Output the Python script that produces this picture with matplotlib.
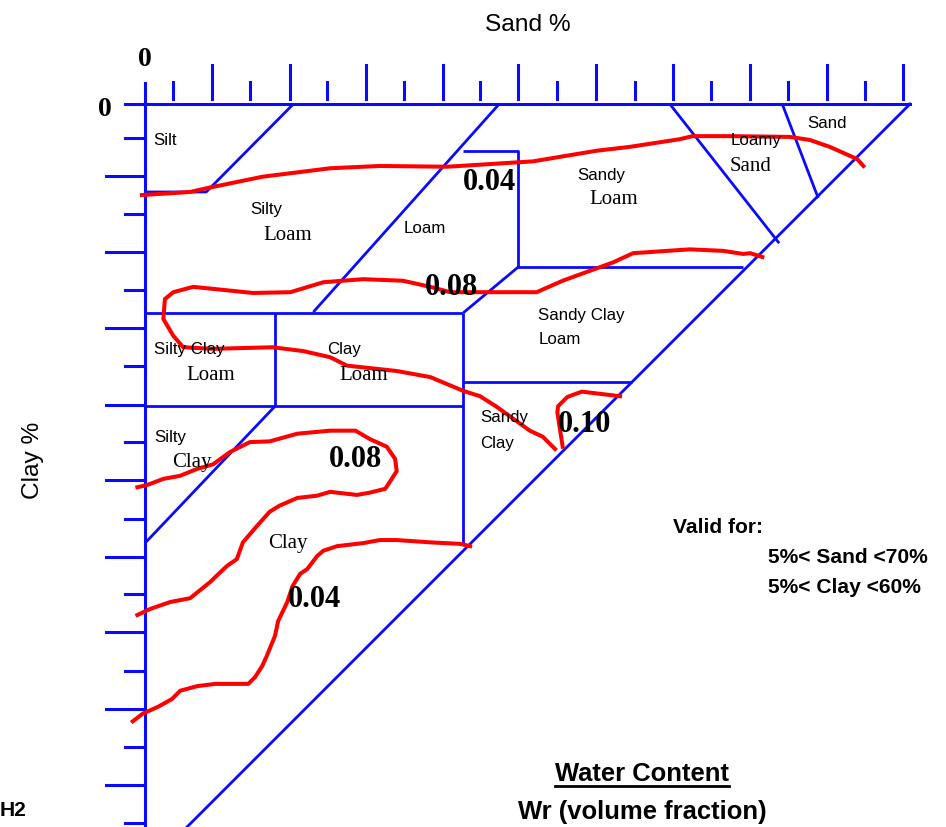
import matplotlib
matplotlib.use("Agg")
import matplotlib.pyplot as plt
from matplotlib import font_manager
from matplotlib.lines import Line2D


# pixels per percent in the reference drawing (same on both axes)
PX = 7.65
W, H = 946, 828
X0, Y0 = 145, 105   # where sand = 0 and clay = 0 sit in the picture

BLUE = "#0a0aff"
RED = "#ff0000"

# tick marks along the top (sand %) and the left side (clay %)
sand_minor = [3.7, 13.7, 23.8, 33.8, 43.8, 53.9, 64.0, 74.0, 84.0, 94.1]
sand_major = [8.8, 18.9, 28.9, 38.9, 48.8, 59.0, 69.0, 79.1, 89.1, 99.1]
clay_minor = [4.4, 14.4, 24.3, 34.3, 44.2, 54.2, 64.1, 74.1, 84.0, 94.0]
clay_major = [9.4, 19.4, 29.3, 39.3, 49.2, 59.2, 69.0, 79.1, 89.0]

# texture class boundaries: (sand %, clay %)
boundaries = [
    [(19.4, 0), (8.0, 11.5), (0, 11.5)],
    [(46.3, 0), (22.0, 27.2)],
    [(41.6, 6.1), (48.8, 6.1), (48.8, 21.3), (78.2, 21.3)],
    [(48.8, 21.3), (41.6, 27.3)],
    [(0, 27.3), (41.6, 27.3)],
    [(41.6, 27.3), (41.6, 57.5)],
    [(17.0, 27.3), (17.0, 39.5)],
    [(0, 39.5), (41.6, 39.5)],
    [(41.6, 36.3), (63.7, 36.3)],
    [(17.0, 39.5), (0, 57.4)],
    [(68.6, 0), (82.9, 18.2)],
    [(83.3, 0), (88.0, 12.3)],
]

# water content isolines (sand %, clay %)
iso_004_top = [(-0.4, 11.9), (5.9, 11.5), (8.1, 11.0), (15.4, 9.5), (24.2, 8.4),
               (30.7, 8.1), (39.5, 8.2), (50.7, 7.5), (59.1, 6.1), (63.4, 5.6),
               (69.9, 4.6), (71.6, 4.2), (76.5, 4.2), (84.3, 4.3), (86.9, 4.7),
               (89.5, 5.6), (93.1, 7.2), (93.9, 8.1)]
iso_008_top = [(80.7, 20.0), (79.1, 19.5), (78.2, 19.6), (75.6, 19.2), (71.2, 19.0),
               (63.8, 19.5), (61.2, 20.7), (54.6, 23.1), (51.2, 24.6), (39.9, 24.6),
               (37.3, 23.9), (33.7, 23.1), (28.5, 22.9), (23.3, 23.3), (19.0, 24.6),
               (14.1, 24.7), (6.3, 23.9), (3.7, 24.6), (2.6, 25.5), (2.4, 28.1),
               (3.7, 30.3), (5.0, 31.8), (8.9, 32.0), (16.7, 31.8), (20.7, 32.3),
               (24.2, 33.1), (26.4, 34.2), (32.9, 34.9), (37.3, 35.7), (41.6, 37.5),
               (43.8, 38.2), (46.0, 39.6), (50.3, 42.7), (52.0, 43.5), (53.6, 45.1)]
iso_010 = [(54.6, 44.8), (53.9, 40.3), (54.0, 39.5), (55.2, 38.3), (57.1, 37.6),
           (62.1, 38.2)]
iso_008_low = [(-1.0, 50.1), (0.3, 49.8), (2.4, 49.0), (4.6, 48.6), (6.8, 47.7),
               (8.9, 47.1), (11.1, 45.5), (13.7, 44.2), (16.3, 44.1), (19.9, 43.1),
               (24.2, 42.7), (27.5, 42.7), (29.4, 43.8), (31.6, 44.8), (32.7, 46.4),
               (32.9, 48.0), (32.0, 49.4), (31.4, 50.3), (29.4, 50.8), (27.7, 51.1),
               (24.2, 50.7), (22.5, 51.2), (19.9, 51.5), (17.6, 52.5), (16.3, 53.3),
               (14.6, 55.2), (12.8, 57.3), (12.0, 59.5), (10.7, 60.4), (8.5, 62.5),
               (5.9, 64.6), (3.3, 65.1), (0.7, 66.0), (-1.0, 66.8)]
iso_004_low = [(42.5, 57.8), (41.2, 57.5), (37.3, 57.3), (32.9, 57.0), (30.7, 57.0),
               (28.5, 57.4), (25.1, 57.8), (23.3, 58.4), (22.5, 59.1), (21.2, 60.8),
               (20.3, 61.4), (19.3, 63.0), (18.6, 65.1), (17.4, 67.6), (17.0, 69.5),
               (15.9, 72.2), (15.3, 73.5), (14.4, 74.9), (13.5, 75.8), (9.2, 75.8),
               (6.8, 76.1), (4.6, 76.7), (3.5, 77.8), (1.7, 78.8), (-0.3, 79.7),
               (-1.6, 80.7)]
isolines = [iso_004_top, iso_008_top, iso_010, iso_008_low, iso_004_low]

# class names: (text, sand, clay, style, align)
class_labels = [
    ("Silt", 2.6, 4.6, "sans", "center"),
    ("Silty", 15.8, 13.7, "sans", "center"),
    ("Loam", 18.7, 17.1, "serif", "center"),
    ("Loam", 36.6, 16.1, "sans", "center"),
    ("Sandy", 59.6, 9.2, "sans", "center"),
    ("Loam", 61.3, 12.4, "serif", "center"),
    ("Loamy", 79.9, 4.7, "sans", "center"),
    ("Sand", 79.2, 8.0, "serif", "center"),
    ("Sand", 89.2, 2.4, "sans", "center"),
    ("Sandy Clay", 51.4, 27.5, "sans", "left"),
    ("Loam", 51.4, 30.7, "sans", "left"),
    ("Silty Clay", 1.2, 32.0, "sans", "left"),
    ("Loam", 8.6, 35.3, "serif", "center"),
    ("Clay", 23.8, 32.0, "sans", "left"),
    ("Loam", 28.6, 35.3, "serif", "center"),
    ("Sandy", 43.8, 40.9, "sans", "left"),
    ("Clay", 43.8, 44.2, "sans", "left"),
    ("Silty", 1.2, 43.4, "sans", "left"),
    ("Clay", 3.5, 46.7, "serif", "left"),
    ("Clay", 18.7, 57.3, "serif", "center"),
]

# isoline values and where they are written
iso_labels = ["0.04", "0.08", "0.10", "0.08", "0.04"]
iso_label_sand = [45.0, 40.0, 57.5, 27.5, 22.2]
iso_label_clay = [10.1, 23.8, 41.8, 46.4, 64.7]


def pick_font(name, fallback):
    try:
        font_manager.findfont(name, fallback_to_default=False)
        return name
    except ValueError:
        return fallback


NARROW = pick_font("Liberation Sans Narrow", None)
if NARROW:
    SANS, SK = NARROW, 1.0
else:
    SANS, SK = "Liberation Sans", 0.84
SERIF = "Liberation Serif"


def main():
    fig = plt.figure(figsize=(W / 100, H / 100), dpi=100)
    ax = fig.add_axes([0, 0, 1, 1])
    ax.set_xlim(-X0 / PX, (W - X0) / PX)
    ax.set_ylim((H - Y0) / PX, -Y0 / PX)
    ax.axis("off")

    # frame: top edge, left edge, hypotenuse
    ax.plot([-2.6, 100], [0, 0], color=BLUE, lw=2.2)
    ax.plot([0, 0], [-2.8, 100], color=BLUE, lw=2.2)
    ax.plot([100, -5], [0, 105], color=BLUE, lw=2.0)

    for s in sand_major:
        ax.plot([s, s], [-5.1, -0.7], color=BLUE, lw=2.2)
    for s in sand_minor:
        ax.plot([s, s], [-2.9, -0.7], color=BLUE, lw=2.2)
    for c in clay_major:
        ax.plot([-5.1, 0], [c, c], color=BLUE, lw=2.2)
    for c in clay_minor:
        ax.plot([-2.6, 0], [c, c], color=BLUE, lw=2.2)

    for seg in boundaries:
        xs, ys = zip(*seg)
        ax.plot(xs, ys, color=BLUE, lw=2.0, solid_capstyle="butt")

    for line in isolines:
        xs, ys = zip(*line)
        ax.plot(xs, ys, color=RED, lw=2.9, solid_joinstyle="round")

    for text, s, c, style, ha in class_labels:
        if style == "sans":
            ax.text(s, c, text, family=SANS, fontsize=14.5 * SK, ha=ha, va="center")
        else:
            ax.text(s, c, text, family=SERIF, fontsize=15, ha=ha, va="center")

    for text, s, c in zip(iso_labels, iso_label_sand, iso_label_clay):
        ax.text(s, c, text, family=SERIF, fontsize=22, fontweight="bold",
                ha="center", va="center")

    ax.text(0, -6.0, "0", family=SERIF, fontsize=20, fontweight="bold",
            ha="center", va="center")
    ax.text(-5.2, 0.6, "0", family=SERIF, fontsize=20, fontweight="bold",
            ha="center", va="center")
    ax.text(50.1, -10.5, "Sand %", family=SANS, fontsize=21 * SK,
            ha="center", va="center")
    ax.text(-14.6, 46.4, "Clay %", family=SANS, fontsize=21 * SK,
            ha="center", va="center", rotation=90)

    ax.text(69.0, 55.2, "Valid for:", family=SANS, fontsize=18 * SK,
            fontweight="bold", ha="left", va="center")
    ax.text(81.4, 59.1, "5%< Sand <70%", family=SANS, fontsize=18 * SK,
            fontweight="bold", ha="left", va="center")
    ax.text(81.4, 63.1, "5%< Clay <60%", family=SANS, fontsize=18 * SK,
            fontweight="bold", ha="left", va="center")

    title = ax.text(65.0, 87.5, "Water Content", family=SANS, fontsize=22 * SK,
                    fontweight="bold", ha="center", va="center")
    ax.text(65.0, 92.4, "Wr (volume fraction)", family=SANS, fontsize=22 * SK,
            fontweight="bold", ha="center", va="center")
    ax.text(-19.0, 92.2, "H2", family=SANS, fontsize=18 * SK,
            fontweight="bold", ha="left", va="center")

    # underline under "Water Content"
    fig.canvas.draw()
    bb = title.get_window_extent()
    fig.add_artist(Line2D([bb.x0 / W, bb.x1 / W], [(bb.y0 - 1) / H] * 2,
                          color="black", lw=2.0))

    fig.savefig("out.png", dpi=100)
    plt.close(fig)


if __name__ == "__main__":
    main()
